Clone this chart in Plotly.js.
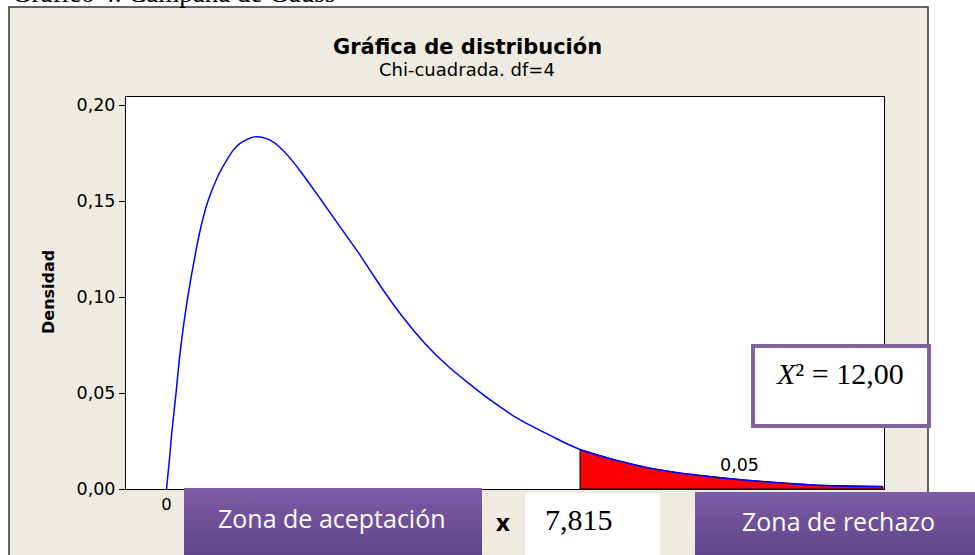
<!DOCTYPE html>
<html>
<head>
<meta charset="utf-8">
<script src="https://cdn.plot.ly/plotly-3.0.1.min.js"></script>
<style>html,body{margin:0;padding:0;background:#fff;}#chart{width:975px;height:555px;}</style>
</head>
<body>
<div id="chart"></div>
<script>
// ---- Data ----
const curveX = [0.00, 0.034, 0.066, 0.098, 0.180, 0.268, 0.401, 0.571, 0.665, 0.790, 0.979, 1.138, 1.263, 1.389, 1.516, 1.660, 1.800, 1.957,
  2.146, 2.367, 2.586, 2.902, 3.280, 3.658, 3.847, 4.098, 4.447, 4.887, 5.327, 5.737, 5.989, 6.367, 6.626, 7.250, 7.815,
  8.516, 9.14, 9.764, 11.03, 12.30, 13.54];
const curveY = [0.0000, 0.0096, 0.0185, 0.0289, 0.0501, 0.0738, 0.0999, 0.1261, 0.1383, 0.1505, 0.1634, 0.1713, 0.1765, 0.1800, 0.1820, 0.1834, 0.1832, 0.1817,
  0.1779, 0.1713, 0.1634, 0.1513, 0.1365, 0.1218, 0.1139, 0.1035, 0.0902, 0.0757, 0.0638, 0.0545, 0.0490, 0.0416, 0.0369, 0.0279, 0.0206,
  0.0148, 0.0108, 0.0081, 0.0044, 0.0020, 0.0013];
const criticalValue = 7.815;
const alphaLabel = "0,05";
const statLabel = "12,00";
const yTickVals = [0, 0.05, 0.10, 0.15, 0.20];
const xTickVals = [0];

// rejection region polygon built from the curve
const tailX = [], tailY = [];
for (let i = 0; i < curveX.length; i++) {
  if (curveX[i] >= criticalValue) { tailX.push(curveX[i]); tailY.push(curveY[i]); }
}
const polyX = [criticalValue].concat(tailX, [tailX[tailX.length - 1], criticalValue]);
const polyY = [0].concat(tailY, [0, 0]);

// ---- pixel helpers for layout decorations ----
const L = 126, R = 884, T = 97, B = 489;
const px = v => (v - L) / (R - L);
const py = v => (B - v) / (B - T);

const gradSvg = "<svg xmlns='http://www.w3.org/2000/svg' width='100' height='100' viewBox='0 0 100 100' preserveAspectRatio='none'>" +
  "<defs><linearGradient id='g' x1='0' y1='0' x2='0' y2='1'><stop offset='0' stop-color='#7E5CA7'/>" +
  "<stop offset='1' stop-color='#5C4386'/></linearGradient></defs><rect width='100' height='100' fill='url(#g)'/></svg>";
const gradSrc = "data:image/svg+xml;charset=utf-8," + encodeURIComponent(gradSvg);

const traces = [
  { x: polyX, y: polyY, type: 'scatter', mode: 'lines', fill: 'toself', fillcolor: '#FF0000',
    line: { color: '#000000', width: 1 }, hoverinfo: 'skip', showlegend: false },
  { x: curveX, y: curveY, type: 'scatter', mode: 'lines', line: { color: '#0000FF', width: 1.5, shape: 'spline', smoothing: 1 },
    showlegend: false }
];

const layout = {
  width: 975, height: 555,
  margin: { l: L, r: 975 - R, t: T, b: 555 - B, pad: 0 },
  paper_bgcolor: '#FFFFFF',
  plot_bgcolor: 'rgba(0,0,0,0)',
  separators: ',.',
  showlegend: false,
  font: { family: 'DejaVu Sans', color: '#000' },
  xaxis: {
    range: [-0.766, 13.56], showgrid: false, zeroline: false,
    showline: true, mirror: true, linecolor: '#000', linewidth: 1,
    tickvals: xTickVals, ticktext: ['0'], ticks: '', tickfont: { size: 16.5, family: 'DejaVu Sans' }
  },
  yaxis: {
    range: [0, 0.20417], showgrid: false, zeroline: false,
    showline: true, mirror: true, linecolor: '#000', linewidth: 1,
    tickvals: yTickVals, tickformat: '.2f', ticks: 'outside', ticklen: 6, tickcolor: '#000',
    tickfont: { size: 17.5, family: 'DejaVu Sans' }
  },
  shapes: [
    { type: 'rect', xref: 'paper', yref: 'paper', x0: px(9), x1: px(928), y0: py(600), y1: py(7),
      fillcolor: '#EFEBE1', line: { color: '#333333', width: 1.5 }, layer: 'below' },
    { type: 'rect', xref: 'paper', yref: 'paper', x0: 0, x1: 1, y0: 0, y1: 1,
      fillcolor: '#FFFFFF', line: { width: 0 }, layer: 'below' },
    { type: 'rect', xref: 'paper', yref: 'paper', x0: px(525), x1: px(660), y0: py(600), y1: py(493),
      fillcolor: '#FFFFFF', line: { width: 0 }, layer: 'above' },
    { type: 'rect', xref: 'paper', yref: 'paper', x0: px(753), x1: px(929), y0: py(426), y1: py(346),
      fillcolor: '#FFFFFF', line: { color: '#8064A2', width: 4 }, layer: 'above' }
  ],
  images: [
    { source: gradSrc, xref: 'paper', yref: 'paper', x: px(184), y: py(488), sizex: (482 - 184) / (R - L),
      sizey: (560 - 488) / (B - T), xanchor: 'left', yanchor: 'top', sizing: 'stretch', layer: 'above' },
    { source: gradSrc, xref: 'paper', yref: 'paper', x: px(695), y: py(492), sizex: (980 - 695) / (R - L),
      sizey: (560 - 492) / (B - T), xanchor: 'left', yanchor: 'top', sizing: 'stretch', layer: 'above' }
  ],
  annotations: [
    { xref: 'paper', yref: 'paper', x: px(467), y: py(47), text: '<b>Gráfica de distribución</b>', showarrow: false,
      font: { family: 'DejaVu Sans', size: 21, color: '#000' }, xanchor: 'center', yanchor: 'middle' },
    { xref: 'paper', yref: 'paper', x: px(467), y: py(70), text: 'Chi-cuadrada. df=4', showarrow: false,
      font: { family: 'DejaVu Sans', size: 18, color: '#000' }, xanchor: 'center', yanchor: 'middle' },
    { xref: 'paper', yref: 'paper', x: px(48), y: py(292), text: '<b>Densidad</b>', textangle: -90, showarrow: false,
      font: { family: 'DejaVu Sans', size: 16, color: '#000' }, xanchor: 'center', yanchor: 'middle' },
    { xref: 'paper', yref: 'paper', x: px(739), y: py(465), text: alphaLabel, showarrow: false,
      font: { family: 'DejaVu Sans', size: 17.5, color: '#000' }, xanchor: 'center', yanchor: 'middle' },
    { xref: 'paper', yref: 'paper', x: px(332), y: py(518), text: 'Zona de aceptación', showarrow: false,
      font: { family: 'Open Sans', size: 25, color: '#FFFFFF' }, xanchor: 'center', yanchor: 'middle' },
    { xref: 'paper', yref: 'paper', x: px(838), y: py(521), text: 'Zona de rechazo', showarrow: false,
      font: { family: 'Open Sans', size: 25, color: '#FFFFFF' }, xanchor: 'center', yanchor: 'middle' },
    { xref: 'paper', yref: 'paper', x: px(503), y: py(521), text: '<b>x</b>', showarrow: false,
      font: { family: 'Noto Sans', size: 24, color: '#000' }, xanchor: 'center', yanchor: 'middle' },
    { xref: 'paper', yref: 'paper', x: px(579), y: py(519), text: criticalValue.toString().replace('.', ','), showarrow: false,
      font: { family: 'Liberation Serif', size: 30, color: '#000' }, xanchor: 'center', yanchor: 'middle' },
    { xref: 'paper', yref: 'paper', x: px(840), y: py(373), text: '<i>X</i>² = ' + statLabel, showarrow: false,
      font: { family: 'Liberation Serif', size: 30, color: '#000' }, xanchor: 'center', yanchor: 'middle' },
    { xref: 'paper', yref: 'paper', x: px(10), y: py(-7), text: 'Gráfico 4. Campana de Gauss', showarrow: false,
      font: { family: 'Liberation Serif', size: 27, color: '#000' }, xanchor: 'left', yanchor: 'middle' }
  ]
};

Plotly.newPlot('chart', traces, layout, { displayModeBar: false, staticPlot: true });
</script>
</body>
</html>
